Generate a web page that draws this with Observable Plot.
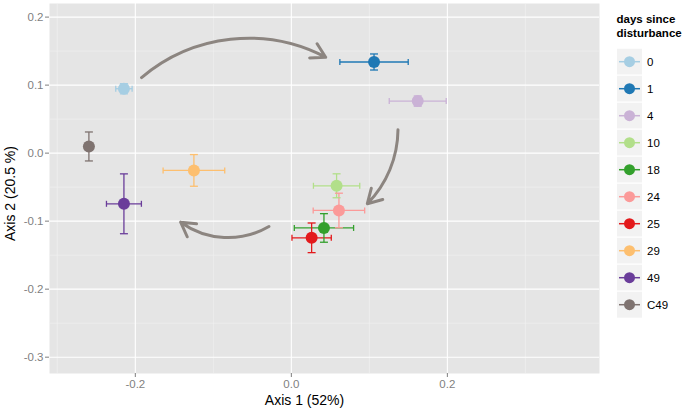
<!DOCTYPE html>
<html>
<head>
<meta charset="utf-8">
<script src="https://cdn.jsdelivr.net/npm/d3@7"></script>
<script src="https://cdn.jsdelivr.net/npm/@observablehq/plot@0.6"></script>
<style>
  html, body { margin: 0; padding: 0; background: #fff; }
  #wrap { position: relative; width: 685px; height: 411px; font-family: "Liberation Sans", Arial, sans-serif; }
  #legend { position: absolute; left: 0; top: 0; }
</style>
</head>
<body>
<div id="wrap"></div>
<script>
// ---- data ----
const groups  = ["0", "1", "4", "10", "18", "24", "25", "29", "49", "C49"];
const axis1   = [-0.2146, 0.106, 0.162, 0.058, 0.0418, 0.061, 0.026, -0.1249, -0.2146, -0.2595];
const axis2   = [0.0947, 0.134, 0.0765, -0.048, -0.110, -0.0843, -0.1245, -0.0254, -0.0745, 0.0098];
const err1    = [0.0105, 0.0438, 0.0365, 0.0297, 0.038, 0.033, 0.0252, 0.0395, 0.0224, 0];
const err2    = [0.0075, 0.0118, 0.0076, 0.0176, 0.021, 0.0254, 0.0218, 0.0233, 0.044, 0.0213];
const colors  = ["#A6CEE3", "#1F78B4", "#CAB2D6", "#B2DF8A", "#33A02C", "#FB9A99", "#E31A1C", "#FDBF6F", "#6A3D9A", "#7F7370"];

// arrows (data coordinates)
const arrowX1 = [-0.192, 0.1367, -0.0287];
const arrowY1 = [0.111, 0.0344, -0.1078];
const arrowX2 = [0.044, 0.0974, -0.1419];
const arrowY2 = [0.141, -0.0744, -0.1015];
const arrowBend = [34, 22, 33];

const xTicks = [-0.2, 0, 0.2];
const xMinor = [-0.3, -0.1, 0.1, 0.3];
const yTicks = [0.2, 0.1, 0, -0.1, -0.2, -0.3];
const yMinor = [0.15, 0.05, -0.05, -0.15, -0.25];

const xLabel = "Axis 1 (52%)";
const yLabel = "Axis 2 (20.5 %)";
const legendTitle = ["days since", "disturbance"];

// ---- build tables ----
const data = groups.map((g, i) => ({key: g, x: axis1[i], y: axis2[i], ex: err1[i], ey: err2[i]}));
const arrows = arrowX1.map((_, i) => ({x1: arrowX1[i], y1: arrowY1[i], x2: arrowX2[i], y2: arrowY2[i], bend: arrowBend[i]}));

const vline = {draw(ctx, size) { const r = Math.sqrt(size / Math.PI); ctx.moveTo(0, -r); ctx.lineTo(0, r); }};
const hline = {draw(ctx, size) { const r = Math.sqrt(size / Math.PI); ctx.moveTo(-r, 0); ctx.lineTo(r, 0); }};
const fmt = d => d.toFixed(1);

const W = 685, H = 411;
const chart = Plot.plot({
  width: W, height: H,
  marginLeft: 49, marginRight: 86, marginTop: 3, marginBottom: 38,
  style: {fontFamily: '"Liberation Sans", Arial, sans-serif', fontSize: "11.5px", background: "#fff"},
  x: {domain: [-0.31, 0.395], axis: null},
  y: {domain: [-0.324, 0.22], axis: null},
  color: {domain: groups, range: colors, type: "ordinal"},
  marks: [
    Plot.frame({fill: "#E5E5E5", stroke: null}),
    Plot.gridX(xMinor, {stroke: "#F2F2F2", strokeOpacity: 1, strokeWidth: 0.6}),
    Plot.gridY(yMinor, {stroke: "#F2F2F2", strokeOpacity: 1, strokeWidth: 0.6}),
    Plot.gridX(xTicks, {stroke: "#fff", strokeOpacity: 1, strokeWidth: 1.1}),
    Plot.gridY(yTicks, {stroke: "#fff", strokeOpacity: 1, strokeWidth: 1.1}),
    Plot.axisX({ticks: xTicks, tickFormat: fmt, tickSize: 4, tickPadding: 2, stroke: "#7F7F7F", fill: "#7F7F7F", fontSize: 11.5, label: null}),
    Plot.axisY({ticks: yTicks, tickFormat: fmt, tickSize: 4, tickPadding: 2, stroke: "#7F7F7F", fill: "#7F7F7F", fontSize: 11.5, label: null}),
    Plot.text([xLabel], {frameAnchor: "bottom", dx: -20, dy: 27, fontSize: 14, fill: "#000", lineAnchor: "middle", textAnchor: "middle"}),
    Plot.text([yLabel], {frameAnchor: "left", rotate: -90, dx: -39, dy: 5, fontSize: 14, fill: "#000", lineAnchor: "middle", textAnchor: "middle"}),
    // error bars
    Plot.link(data, {x1: d => d.x - d.ex, x2: d => d.x + d.ex, y1: "y", y2: "y", stroke: "key", strokeWidth: 1.3}),
    Plot.link(data, {x1: "x", x2: "x", y1: d => d.y - d.ey, y2: d => d.y + d.ey, stroke: "key", strokeWidth: 1.3}),
    Plot.dot(data, {x: d => d.x - d.ex, y: "y", symbol: vline, r: 3, stroke: "key", fill: "none", strokeWidth: 1.3}),
    Plot.dot(data, {x: d => d.x + d.ex, y: "y", symbol: vline, r: 3, stroke: "key", fill: "none", strokeWidth: 1.3}),
    Plot.dot(data, {x: "x", y: d => d.y - d.ey, symbol: hline, r: 4, stroke: "key", fill: "none", strokeWidth: 1.3}),
    Plot.dot(data, {x: "x", y: d => d.y + d.ey, symbol: hline, r: 4, stroke: "key", fill: "none", strokeWidth: 1.3}),
    // points
    Plot.dot(data, {x: "x", y: "y", fill: "key", r: 6, stroke: null}),
    // arrows
    ...arrows.map(a => Plot.arrow([a], {x1: "x1", y1: "y1", x2: "x2", y2: "y2", bend: a.bend, stroke: "#8C8580", strokeWidth: 3, headLength: 8}))
  ]
});
const wrap = document.getElementById("wrap");
wrap.appendChild(chart);

// ---- legend ----
const color = chart.scale("color");
const lg = d3.select(wrap).append("svg").attr("id", "legend").attr("width", W).attr("height", H)
  .style("font-family", '"Liberation Sans", Arial, sans-serif');
lg.selectAll("text.title").data(legendTitle).join("text")
  .attr("x", 616.5).attr("y", (d, i) => 23 + i * 14)
  .attr("font-size", 11.5).attr("font-weight", "bold").attr("fill", "#000").text(d => d);
const rows = lg.selectAll("g.key").data(groups).join("g")
  .attr("transform", (d, i) => `translate(616.5,${61.7 + 27 * i})`);
rows.append("rect").attr("x", 0).attr("y", -13.5).attr("width", 26).attr("height", 27)
  .attr("fill", "#F2F2F2").attr("stroke", "#fff").attr("stroke-width", 1);
rows.append("line").attr("x1", 2.5).attr("x2", 23.5).attr("y1", 0).attr("y2", 0)
  .attr("stroke", d => color.apply(d)).attr("stroke-width", 1.5);
rows.append("circle").attr("cx", 13).attr("cy", 0).attr("r", 5.5).attr("fill", d => color.apply(d));
rows.append("text").attr("x", 30.5).attr("y", 4.2).attr("font-size", 11.5).attr("fill", "#000").text(d => d);
</script>
</body>
</html>
